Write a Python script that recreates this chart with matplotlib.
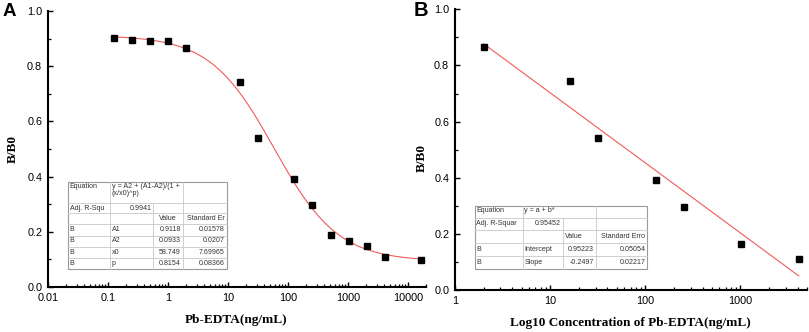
import numpy as np
import matplotlib
matplotlib.use("Agg")
import matplotlib.pyplot as plt
from matplotlib.ticker import FixedLocator, FixedFormatter, LogLocator, NullFormatter, MultipleLocator
from matplotlib.lines import Line2D

# ---------------- data ----------------
conc_a = [0.125, 0.25, 0.5, 1, 2, 16, 32, 128, 256, 512, 1024, 2048, 4096, 16384]
bb0_a = [0.901, 0.896, 0.891, 0.890, 0.867, 0.744, 0.540, 0.392, 0.297, 0.189, 0.165, 0.148, 0.110, 0.098]
fit_a = {"A1": 0.9118, "A2": 0.0933, "x0": 58.749, "p": 0.8154}

conc_b = [2, 16, 32, 128, 256, 1024, 4096]
bb0_b = [0.867, 0.744, 0.540, 0.392, 0.297, 0.165, 0.110]
intercept_b = 0.95223
slope_b = -0.2497

xticks_a = [0.01, 0.1, 1, 10, 100, 1000, 10000]
xticklabels_a = ["0.01", "0.1", "1", "10", "100", "1000", "10000"]
xticks_b = [1, 10, 100, 1000]
xticklabels_b = ["1", "10", "100", "1000"]
yticks = [0.0, 0.2, 0.4, 0.6, 0.8, 1.0]
yticklabels = ["0.0", "0.2", "0.4", "0.6", "0.8", "1.0"]

table_a = [
    ["Equation", "y = A2 + (A1-A2)/(1 +\n(x/x0)^p)", "", ""],
    ["Adj. R-Squ", "0.9941", "", ""],
    ["", "", "Value", "Standard Er"],
    ["B", "A1", "0.9118", "0.01578"],
    ["B", "A2", "0.0933", "0.0207"],
    ["B", "x0", "58.749", "7.69965"],
    ["B", "p", "0.8154", "0.08366"],
]
table_b = [
    ["Equation", "y = a + b*", "", ""],
    ["Adj. R-Squar", "0.95452", "", ""],
    ["", "", "Value", "Standard Erro"],
    ["B", "Intercept", "0.95223", "0.05054"],
    ["B", "Slope", "-0.2497", "0.02217"],
]

# ---------------- figure ----------------
W, H = 809, 332
fig = plt.figure(figsize=(W / 100, H / 100), dpi=100)
plt.rcParams['font.family'] = ['Liberation Sans', 'DejaVu Sans']

def px_rect(l, t, r, b):
    return [l / W, 1 - b / H, (r - l) / W, (b - t) / H]

axA = fig.add_axes(px_rect(48, 11, 426, 287))
axB = fig.add_axes(px_rect(455, 9.3, 807, 290))

red = '#F05A5A'
serif_bold = dict(family=['Liberation Serif', 'DejaVu Serif'], fontweight='bold', fontsize=9.5)

def style(ax):
    for s in ['top', 'right']:
        ax.spines[s].set_visible(False)
    for s in ['left', 'bottom']:
        ax.spines[s].set_linewidth(1.5)
    ax.tick_params(which='major', direction='in', length=3.6, width=1.0, labelsize=7.8, pad=4.2, colors='black')
    ax.tick_params(which='minor', direction='in', length=2.2, width=0.9)
    ax.set_xscale('log')
    ax.set_ylim(0, 1.0)
    ax.yaxis.set_major_locator(FixedLocator(yticks))
    ax.yaxis.set_major_formatter(FixedFormatter(yticklabels))
    ax.yaxis.set_minor_locator(MultipleLocator(0.1))
    ax.xaxis.set_minor_locator(LogLocator(base=10, subs=np.arange(2, 10), numticks=20))
    ax.xaxis.set_minor_formatter(NullFormatter())

# Panel A
style(axA)
axA.set_xlim(0.01, 20000)
axA.xaxis.set_major_locator(FixedLocator(xticks_a))
axA.xaxis.set_major_formatter(FixedFormatter(xticklabels_a))
xs = np.logspace(np.log10(conc_a[0]), np.log10(conc_a[-1]), 400)
ys = fit_a["A2"] + (fit_a["A1"] - fit_a["A2"]) / (1 + (xs / fit_a["x0"]) ** fit_a["p"])
axA.plot(xs, ys, color=red, lw=0.8, zorder=2)
axA.plot(conc_a, bb0_a, 's', color='black', ms=4.5, zorder=3, clip_on=False)
axA.set_xlabel("Pb-EDTA(ng/mL)", **serif_bold)
axA.xaxis.set_label_coords(0.497, -0.12)
axA.xaxis.label.set_va('center')
axA.set_ylabel("B/B0", **serif_bold)
axA.yaxis.set_label_coords(-0.094, 0.5)
axA.yaxis.label.set_va('center')

# Panel B
style(axB)
axB.set_xlim(1, 5000)
axB.xaxis.set_major_locator(FixedLocator(xticks_b))
axB.xaxis.set_major_formatter(FixedFormatter(xticklabels_b))
xl = np.array([conc_b[0], conc_b[-1]], dtype=float)
axB.plot(xl, intercept_b + slope_b * np.log10(xl), color=red, lw=0.8, zorder=2)
axB.plot(conc_b, bb0_b, 's', color='black', ms=4.5, zorder=3, clip_on=False)
axB.set_xlabel("Log10 Concentration of Pb-EDTA(ng/mL)", **serif_bold)
axB.xaxis.set_label_coords(0.497, -0.118)
axB.xaxis.label.set_va('center')
axB.set_ylabel("B/B0", **serif_bold)
axB.yaxis.set_label_coords(-0.094, 0.47)
axB.yaxis.label.set_va('center')

# Panel letters
fig.text(3 / W, 1 - 11.5 / H, "A", fontsize=13.5, fontweight='bold', va='center', ha='left')
fig.text(414 / W, 1 - 11 / H, "B", fontsize=14.5, fontweight='bold', va='center', ha='left')

# ---------------- tables ----------------
def fx(x):
    return x / W

def fy(y):
    return 1 - y / H

def draw_table(cells, cols, rows, merged_first=True, value_align='center'):
    l, r, t, b = cols[0], cols[-1], rows[0], rows[-1]
    rect = plt.Rectangle((fx(l), fy(b)), fx(r) - fx(l), fy(t) - fy(b), transform=fig.transFigure,
                         facecolor='white', edgecolor='#9a9a9a', lw=0.8, zorder=5)
    fig.add_artist(rect)
    inner = '#c8c8c8'
    for y in rows[1:-1]:
        fig.add_artist(Line2D([fx(l), fx(r)], [fy(y), fy(y)], transform=fig.transFigure,
                              color=inner, lw=0.6, zorder=6))
    for j, x in enumerate(cols[1:-1], start=1):
        y_start = rows[1] if (merged_first and j == 2) else rows[0]
        fig.add_artist(Line2D([fx(x), fx(x)], [fy(y_start), fy(b)], transform=fig.transFigure,
                              color=inner, lw=0.6, zorder=6))
    fs = 5.1
    col_txt = '#333333'
    for i, row in enumerate(cells):
        y0, y1 = rows[i], rows[i + 1]
        for j, txt in enumerate(row):
            if not txt:
                continue
            c0, c1 = cols[j], cols[j + 1]
            if i == 0:
                fig.text(fx(c0 + 2), fy(y0 + 1.2), txt, fontsize=fs, color=col_txt, ha='left', va='top',
                         zorder=7, linespacing=0.95)
                continue
            yc = fy((y0 + y1) / 2)
            if j <= 1 and i != 1:
                fig.text(fx(c0 + 2), yc, txt, fontsize=fs, color=col_txt, ha='left', va='center', zorder=7)
            elif j == 0:
                fig.text(fx(c0 + 2), yc, txt, fontsize=fs, color=col_txt, ha='left', va='center', zorder=7)
            elif i == 2 and j == 2:
                if value_align == 'center':
                    fig.text(fx((c0 + c1) / 2), yc, txt, fontsize=fs, color=col_txt, ha='center', va='center', zorder=7)
                else:
                    fig.text(fx(c0 + 2), yc, txt, fontsize=fs, color=col_txt, ha='left', va='center', zorder=7)
            else:
                fig.text(fx(c1 - 2), yc, txt, fontsize=fs, color=col_txt, ha='right', va='center', zorder=7)

draw_table(table_a, [67.5, 109.5, 153.3, 182.8, 226.5],
           [181.7, 202.7, 213.3, 224, 235.5, 246.5, 257.5, 268.7], value_align='center')
draw_table(table_b, [474.5, 522.5, 562.7, 596, 647.3],
           [206, 217.5, 230, 242.7, 256, 268.7], value_align='left')

fig.savefig("out.png", dpi=100)
